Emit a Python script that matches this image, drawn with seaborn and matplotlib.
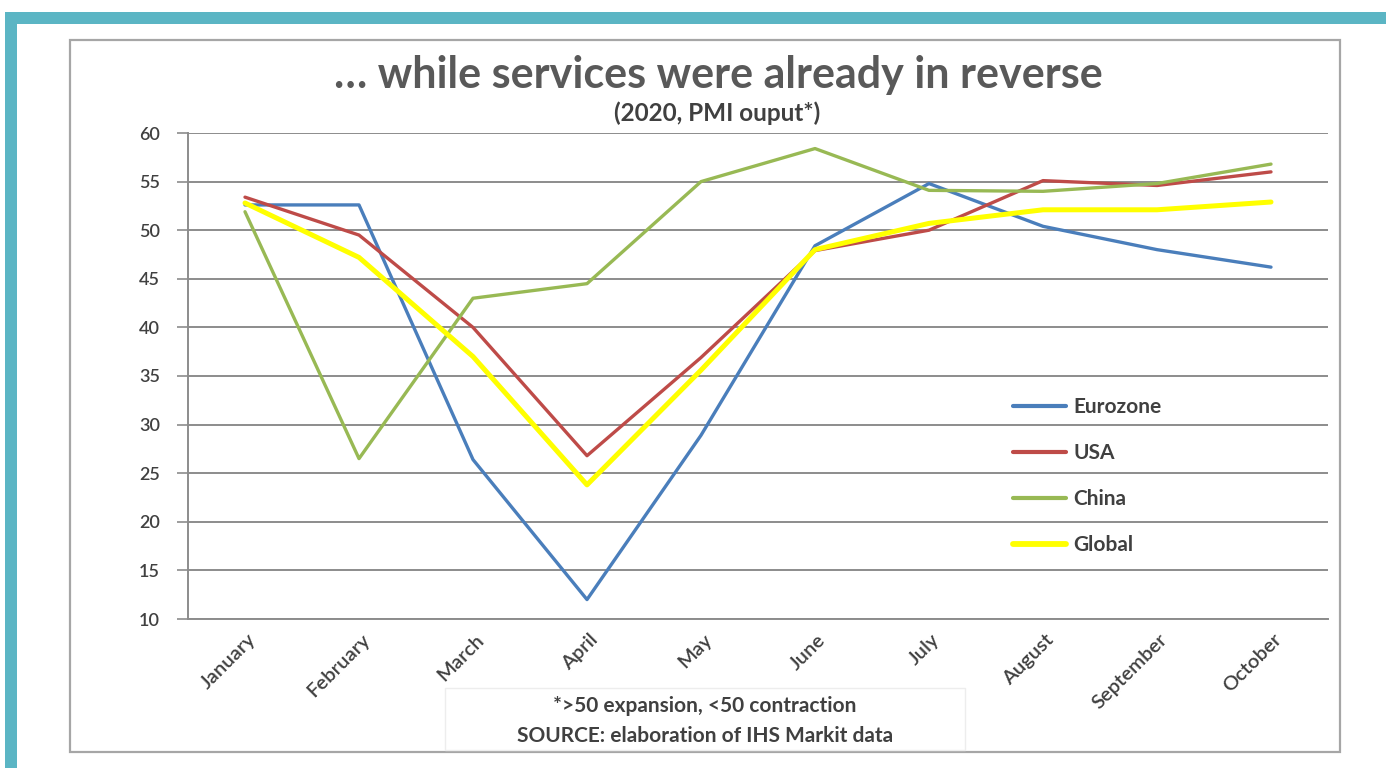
import matplotlib
matplotlib.use("Agg")
import matplotlib.pyplot as plt
import matplotlib.transforms as mtransforms
from matplotlib.patches import Rectangle
import seaborn as sns
import pandas as pd
import numpy as np

months = ["January", "February", "March", "April", "May", "June",
          "July", "August", "September", "October"]
eurozone = [52.6, 52.6, 26.4, 12.0, 28.9, 48.4, 54.8, 50.4, 48.0, 46.2]
usa      = [53.4, 49.5, 40.0, 26.8, 36.9, 47.9, 50.0, 55.1, 54.6, 56.0]
china    = [51.9, 26.5, 43.0, 44.5, 55.0, 58.4, 54.1, 54.0, 54.8, 56.8]
global_  = [52.8, 47.2, 37.0, 23.8, 35.6, 48.0, 50.7, 52.1, 52.1, 52.9]
series_names = ["Eurozone", "USA", "China", "Global"]
yticks = list(range(10, 61, 5))

title = "\u2026 while services were already in reverse"
subtitle = "(2020, PMI ouput*)"
note1 = "*>50 expansion, <50 contraction"
note2 = "SOURCE: elaboration of IHS Markit data"

colors = {"Eurozone": "#4A7EBB", "USA": "#BE4B48", "China": "#98B954", "Global": "#FFFF00"}
widths = {"Eurozone": 2.4, "USA": 2.4, "China": 2.4, "Global": 3.6}

df = pd.DataFrame({
    "idx": list(range(len(months))) * 4,
    "value": eurozone + usa + china + global_,
    "series": sum([[s] * len(months) for s in series_names], []),
})

sns.set_theme(style="white")
plt.rcParams["font.family"] = ["Lato", "DejaVu Sans"]
txt = "#404040"

W, H = 1386, 768
fig = plt.figure(figsize=(W / 100, H / 100), dpi=100)
fig.patch.set_facecolor("white")

def fx(px):
    return px / W

def fy(py):
    return 1 - py / H

# Teal frame
fig.patches.append(Rectangle((fx(5), fy(24)), fx(W), 12 / H, transform=fig.transFigure,
                             facecolor="#5BB5C4", edgecolor="none", zorder=0))
fig.patches.append(Rectangle((fx(5), 0), 12 / W, fy(12), transform=fig.transFigure,
                             facecolor="#5BB5C4", edgecolor="none", zorder=0))
# Inner chart box
fig.patches.append(Rectangle((fx(70), fy(752)), (1340 - 70) / W, (752 - 40) / H,
                             transform=fig.transFigure, facecolor="none",
                             edgecolor="#A6A6A6", lw=1.6, zorder=0))
# Notes box
fig.patches.append(Rectangle((fx(445), fy(750)), (965 - 445) / W, (750 - 688) / H,
                             transform=fig.transFigure, facecolor="none",
                             edgecolor="#EDEDED", lw=1.0, zorder=0))

left, right, top, bottom = 188, 1328, 133, 619
ax = fig.add_axes([fx(left), fy(bottom), (right - left) / W, (bottom - top) / H])
ax.set_facecolor("none")

for s in series_names:
    sub = df[df["series"] == s]
    sns.lineplot(data=sub, x="idx", y="value", ax=ax, color=colors[s],
                 linewidth=widths[s], label=s, sort=False)

ax.set_xlim(-0.5, len(months) - 0.5)
ax.set_ylim(10, 60)
ax.set_yticks(yticks)
ax.set_yticklabels([str(v) for v in yticks], fontsize=13, color=txt, fontweight="semibold")
ax.yaxis.grid(True, color="#8C8C8C", lw=1.4)
ax.set_axisbelow(True)
ax.set_xlabel("")
ax.set_ylabel("")

ax.set_xticks(range(len(months)))
ax.set_xticklabels(months, rotation=45, ha="right", va="center",
                   rotation_mode="anchor", fontsize=14.5, color=txt, fontweight="semibold")
ax.set_xticks(np.arange(-0.5, len(months), 1.0), minor=True)
ax.tick_params(axis="x", which="major", length=0, pad=0)
ax.tick_params(axis="x", which="minor", length=6, width=1.2, color="#8C8C8C", direction="out")
ax.tick_params(axis="y", which="major", length=8, width=1.2, color="#8C8C8C",
               direction="out", pad=12, left=True)
offset = mtransforms.ScaledTranslation(8 / 100, -18 / 100, fig.dpi_scale_trans)
for lab in ax.get_xticklabels():
    lab.set_transform(lab.get_transform() + offset)

for sp in ["top", "right"]:
    ax.spines[sp].set_visible(False)
for sp in ["left", "bottom"]:
    ax.spines[sp].set_color("#8C8C8C")
    ax.spines[sp].set_linewidth(1.4)

leg = ax.legend(loc="upper left", bbox_to_anchor=(fx(1013), fy(397)),
                bbox_transform=fig.transFigure, frameon=False, borderaxespad=0,
                borderpad=0, handlelength=2.55, handletextpad=0.35, labelspacing=1.25,
                prop={"family": ["Lato", "DejaVu Sans"], "weight": "bold", "size": 15})
for t in leg.get_texts():
    t.set_color(txt)
for h, s in zip(leg.get_lines(), series_names):
    h.set_linewidth(widths[s] + 0.6)

fig.text(fx(718), fy(75), title, ha="center", va="center", fontsize=31,
         fontweight="bold", color="#595959")
fig.text(fx(717), fy(113), subtitle, ha="center", va="center", fontsize=17.5,
         fontweight="bold", color=txt)
fig.text(fx(705), fy(706), note1, ha="center", va="center", fontsize=15,
         fontweight="bold", color=txt)
fig.text(fx(705), fy(736), note2, ha="center", va="center", fontsize=15,
         fontweight="bold", color=txt)

fig.savefig("out.png", dpi=100, facecolor="white")
